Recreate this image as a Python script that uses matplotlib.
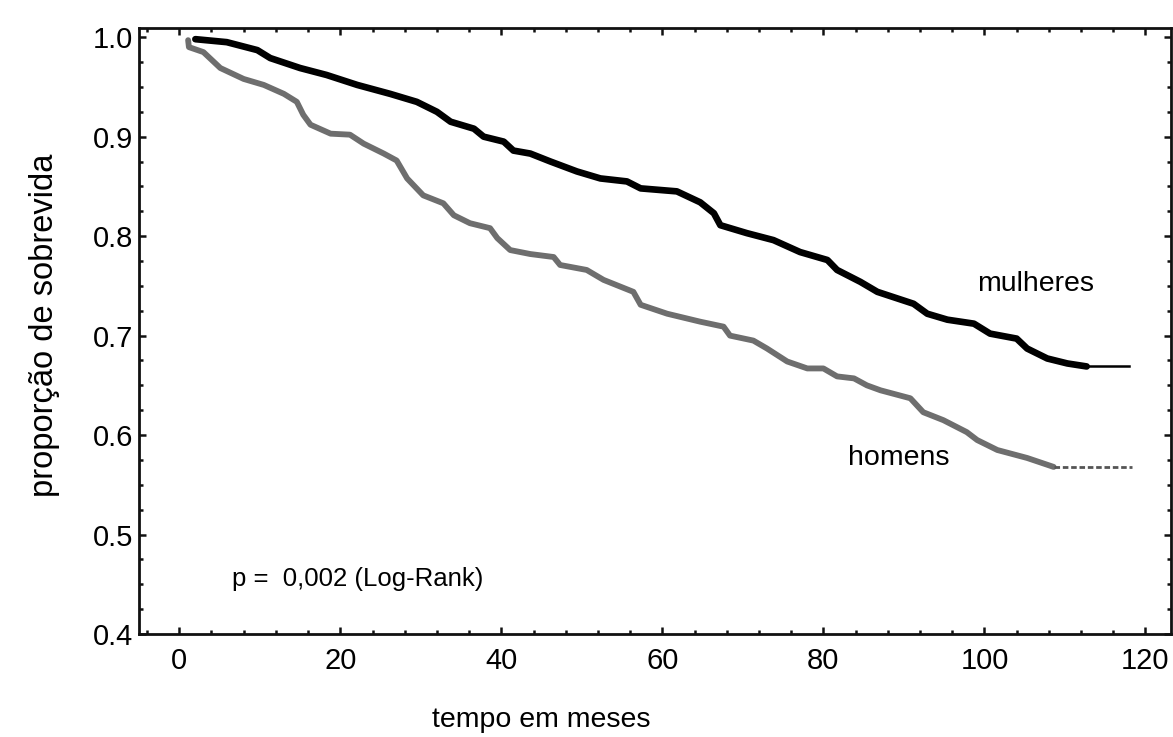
import matplotlib
matplotlib.use('Agg')
import matplotlib.pyplot as plt
from matplotlib.ticker import MultipleLocator

plt.rcParams['font.family'] = ['Liberation Sans', 'DejaVu Sans']

# ── Data (Kaplan-Meier curves) ──
mulheres_t = [2.0, 5.9, 9.7, 11.3, 15.0, 18.3, 22.1, 26.2, 29.5, 32.0, 33.7, 36.6,
              37.8, 40.3, 41.5, 43.6, 46.1, 49.4, 52.3, 55.6, 57.3, 61.8, 64.7,
              66.4, 67.2, 70.5, 73.8, 77.1, 80.5, 81.7, 84.6, 86.7, 91.2, 92.9,
              95.4, 98.7, 100.7, 104.0, 105.3, 107.8, 110.3, 112.7]
mulheres_s = [0.998, 0.995, 0.987, 0.979, 0.969, 0.962, 0.952, 0.943, 0.935, 0.925,
              0.915, 0.908, 0.900, 0.895, 0.886, 0.883, 0.875, 0.865, 0.858, 0.855,
              0.848, 0.845, 0.834, 0.823, 0.811, 0.803, 0.796, 0.784, 0.776, 0.766,
              0.754, 0.744, 0.732, 0.722, 0.716, 0.712, 0.702, 0.697, 0.687, 0.677,
              0.672, 0.669]
mulheres_tail_t = [112.7, 117.9]
mulheres_tail_s = [0.669, 0.669]

homens_t = [1.1, 1.2, 3.0, 5.1, 8.0, 10.5, 13.0, 14.6, 15.4, 16.3, 18.8, 21.2, 22.9,
            25.4, 27.0, 28.3, 30.3, 32.8, 34.1, 36.1, 38.6, 39.5, 41.1, 43.6, 46.5,
            47.3, 50.6, 52.7, 56.4, 57.3, 60.6, 64.7, 67.6, 68.4, 71.3, 73.0, 75.5,
            78.0, 80.0, 81.7, 83.8, 85.4, 87.1, 90.8, 92.4, 94.9, 97.8, 99.1, 101.6,
            105.3, 108.6]
homens_s = [0.997, 0.990, 0.985, 0.969, 0.958, 0.952, 0.943, 0.935, 0.922, 0.912,
            0.903, 0.902, 0.893, 0.883, 0.876, 0.858, 0.841, 0.833, 0.821, 0.813,
            0.808, 0.798, 0.786, 0.782, 0.779, 0.771, 0.766, 0.756, 0.744, 0.731,
            0.722, 0.714, 0.709, 0.700, 0.695, 0.687, 0.674, 0.667, 0.667, 0.659,
            0.657, 0.650, 0.645, 0.637, 0.623, 0.615, 0.603, 0.595, 0.585, 0.577,
            0.568]
homens_tail_t = [108.6, 118.3]
homens_tail_s = [0.568, 0.568]

xticks = [0, 20, 40, 60, 80, 100, 120]
yticks = [0.4, 0.5, 0.6, 0.7, 0.8, 0.9, 1.0]

fig = plt.figure(figsize=(11.73, 7.37), dpi=100)
ax = fig.add_axes([0.1185, 0.1397, 0.880, 0.822])

ax.plot(mulheres_t, mulheres_s, color='black', linewidth=4.8,
        solid_joinstyle='round', solid_capstyle='round')
ax.plot(mulheres_tail_t, mulheres_tail_s, color='black', linewidth=1.8)
ax.plot(homens_t, homens_s, color='#6e6e6e', linewidth=4.2,
        solid_joinstyle='round', solid_capstyle='round')
ax.plot(homens_tail_t, homens_tail_s, color='#555555', linewidth=2.0,
        linestyle=(0, (2, 1)))

ax.set_xlim(-5, 123.2)
ax.set_ylim(0.4, 1.009)
ax.set_xticks(xticks)
ax.set_yticks(yticks)
ax.set_xticklabels([str(v) for v in xticks])
ax.set_yticklabels([f'{v:.1f}' for v in yticks])
ax.xaxis.set_minor_locator(MultipleLocator(4))
ax.yaxis.set_minor_locator(MultipleLocator(0.025))

for side in ax.spines.values():
    side.set_linewidth(2.0)
    side.set_color('#111111')
ax.tick_params(which='both', direction='in', top=True, right=True,
               width=1.8, color='#111111')
ax.tick_params(which='major', length=5, labelsize=21, pad=9)
ax.tick_params(which='minor', length=3)
ax.tick_params(axis='y', which='major', pad=4)

ax.set_xlabel('tempo em meses', fontsize=20.5)
ax.xaxis.set_label_coords(0.39, -0.12)
ax.set_ylabel('proporção de sobrevida', fontsize=23.5, va='center')
ax.yaxis.set_label_coords(-0.092, 0.51)

ax.text(106.4, 0.752, 'mulheres', fontsize=20.5, ha='center', va='center')
ax.text(89.3, 0.577, 'homens', fontsize=20.5, ha='center', va='center')
ax.text(6.6, 0.455, 'p =  0,002 (Log-Rank)', fontsize=18.5, ha='left', va='center')

fig.savefig('out.png', dpi=100)
